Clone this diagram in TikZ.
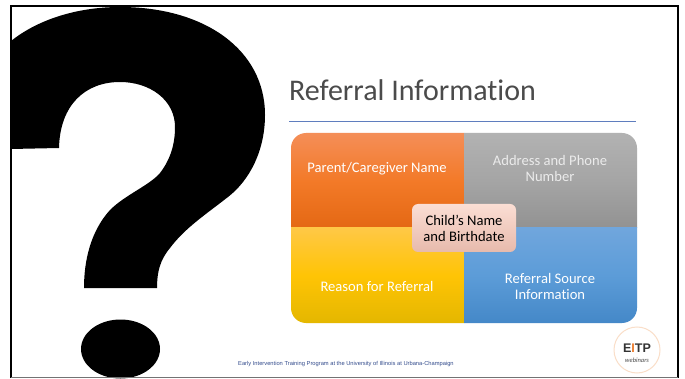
\documentclass[tikz,border=0pt]{standalone}
\usepackage{fontspec}
\setmainfont[Ligatures=NoCommon]{Carlito}
\newfontfamily\footfont{Liberation Sans}
\definecolor{titlecol}{RGB}{75,75,75}
\definecolor{rulecol}{RGB}{95,125,190}
\definecolor{footblue}{RGB}{50,75,140}
\tikzset{
  quad/.style={minimum width=173pt,minimum height=95pt,inner sep=0pt,outer sep=0pt,anchor=center,draw=none},
  orangeq/.style={quad,top color=orange1,bottom color=orange3,middle color=orange2},
  greyq/.style={quad,top color=grey1,bottom color=grey3,middle color=grey2},
  yellowq/.style={quad,top color=yellow1,bottom color=yellow3,middle color=yellow2},
  blueq/.style={quad,top color=blue1,bottom color=blue3,middle color=blue2},
  qlabel/.style={text=white,font=\fontsize{14.6}{16}\selectfont,align=center,inner sep=0pt},
}
\definecolor{orange1}{RGB}{244,142,88}
\definecolor{orange2}{RGB}{243,122,40}
\definecolor{orange3}{RGB}{228,104,20}
\definecolor{grey1}{RGB}{178,178,178}
\definecolor{grey2}{RGB}{165,165,165}
\definecolor{grey3}{RGB}{146,146,146}
\definecolor{yellow1}{RGB}{255,200,70}
\definecolor{yellow2}{RGB}{255,196,5}
\definecolor{yellow3}{RGB}{228,183,0}
\definecolor{blue1}{RGB}{112,166,221}
\definecolor{blue2}{RGB}{92,156,216}
\definecolor{blue3}{RGB}{68,136,200}
\definecolor{logoring}{RGB}{250,222,200}
\definecolor{eitporange}{RGB}{235,120,40}
\definecolor{centretop}{RGB}{251,222,212}
\definecolor{centrebot}{RGB}{231,186,172}
\begin{document}
\begin{tikzpicture}[x=1pt,y=-1pt]
\useasboundingbox (0,0) rectangle (685,379);
\fill[white] (0,0) rectangle (685,379);
% question mark
\fill[black] (11,41)
  .. controls (40,18) and (80,7) .. (120,7)
  .. controls (205,7) and (265,50) .. (265,115)
  .. controls (265,150) and (250,180) .. (228,197)
  .. controls (205,215) and (185,228) .. (170,248)
  .. controls (160,260) and (157,272) .. (157,288)
  -- (84,288)
  .. controls (84,262) and (90,232) .. (110,210)
  .. controls (125,195) and (150,185) .. (160,173)
  .. controls (170,160) and (175,145) .. (175,127)
  .. controls (175,100) and (150,82) .. (120,82)
  .. controls (85,82) and (60,105) .. (59,148)
  -- (11,149) -- cycle;
\fill[black] (120.5,349) ellipse (39.5 and 29.5);
% slide frame
\draw[black,line width=2pt] (11,378) -- (11,6) -- (678,6) -- (678,378);
\draw[black!55,line width=1.2pt] (11,377.6) -- (678,377.6);
% title
\node[anchor=base west,inner sep=0pt,text=titlecol,font=\fontsize{30}{34}\selectfont] (title) at (289,101) {Referral Information};
\coordinate (ruleL) at (289,121.3);
\coordinate (ruleR) at (636,121.3);
\draw[rulecol,line width=0.8pt] (ruleL) -- (ruleR);
% quadrants
\begin{scope}
\clip[rounded corners=15pt] (291,133) rectangle (637,323);
\node[orangeq] (q1) at (377.5,180.5) {};
\node[greyq] (q2) at (550.5,180.5) {};
\node[yellowq] (q3) at (377.5,275.5) {};
\node[blueq] (q4) at (550.5,275.5) {};
\end{scope}
\node[qlabel] (t1) at (377,168.5) {Parent/Caregiver Name};
\node[qlabel,text=white!92!black] (t2) at (550,168.5) {Address and Phone\\Number};
\node[qlabel] (t3) at (377,286.5) {Reason for Referral};
\node[qlabel] (t4) at (550,286.5) {Referral Source\\Information};
% centre
\node[rounded corners=6pt,minimum width=104pt,minimum height=48pt,inner sep=0pt,
  top color=centretop,bottom color=centrebot,
  font=\fontsize{14.6}{16}\selectfont,align=center,text=black] (c) at (464,228) {Child’s Name\\and Birthdate};
% footer
\node[anchor=base west,inner sep=0pt,text=footblue,font=\footfont\fontsize{5.75}{7}\selectfont] (foot) at (238,365) {Early Intervention Training Program at the University of Illinois at Urbana-Champaign};
% logo
\node[circle,draw=logoring,line width=1pt,fill=white,minimum size=46pt,inner sep=0pt] (logo) at (637,350) {};
\node[inner sep=0pt,font=\footfont\bfseries\fontsize{12.5}{13}\selectfont,text=black!80] (eitp) at (637,348) {E\textcolor{eitporange}{I}TP};
\node[inner sep=0pt,font=\itshape\fontsize{6.5}{7}\selectfont,text=black!70] (web) at (637,360) {webinars};
\end{tikzpicture}
\end{document}
